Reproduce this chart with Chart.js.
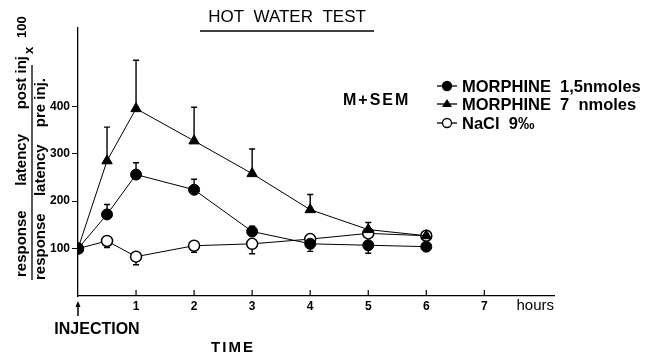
<!DOCTYPE html>
<html>
<head>
<meta charset="UTF-8" />
<title>Hot water test</title>
<script src="https://cdn.jsdelivr.net/npm/chart.js"></script>
<style>
  body { margin: 0; background: #fff; overflow: hidden; }
  .wrap { width: 645px; height: 356px; position: relative; }
</style>
</head>
<body>
<div class="wrap"><canvas id="chart"></canvas></div>
<script>
  // time after injection (hours)
  const hours = [0, 0.5, 1, 2, 3, 4, 5, 6];
  const xTicks = [1, 2, 3, 4, 5, 6, 7];
  const yTicks = [100, 200, 300, 400];

  // response latency post / pre x 100
  const morph15 = [100, 172, 256, 224, 136, 110, 107, 104];
  const morph7 = [100, 285, 395, 327, 258, 182, 140, 127];
  const nacl = [100, 116, 83, 106, 110, 120, 132, 127];

  // SEM, sign = direction the bar is drawn
  const morph15Err = [0, 21, 25, 22, 11, -16, -17, -8];
  const morph7Err = [0, 71, 102, 71, 52, 32, 15, 9];
  const naclErr = [0, -14, -17, -14, -21, 7, 0, 0];

  const legendLabels = ['MORPHINE  1,5nmoles', 'MORPHINE  7  nmoles', 'NaCl  9\u2030'];

  const FONT = '"Liberation Sans", Arial, sans-serif';
  const pts = arr => arr.map((v, i) => ({ x: hours[i], y: v }));
  const errs = [morph15Err, morph7Err, naclErr];

  const errorBars = {
    id: 'errorBars',
    beforeDatasetsDraw(chart) {
      const { ctx, scales: { x, y } } = chart;
      ctx.save();
      ctx.strokeStyle = '#000';
      ctx.lineWidth = 1.4;
      chart.data.datasets.forEach((ds, i) => {
        ds.data.forEach((p, j) => {
          const e = errs[i][j];
          if (!e) return;
          const px = x.getPixelForValue(p.x);
          const p0 = y.getPixelForValue(p.y);
          const p1 = y.getPixelForValue(p.y + e);
          ctx.beginPath();
          ctx.moveTo(px, p0); ctx.lineTo(px, p1);
          ctx.moveTo(px - 3, p1); ctx.lineTo(px + 3, p1);
          ctx.stroke();
        });
      });
      ctx.restore();
    }
  };

  // words spread along a rotated line, from bottom y0 up to y1
  function spread(ctx, words, x, y0, y1) {
    const w = words.map(s => ctx.measureText(s).width);
    const gap = words.length > 1 ? ((y0 - y1) - w.reduce((a, b) => a + b, 0)) / (words.length - 1) : 0;
    let pos = y0;
    words.forEach((s, i) => {
      ctx.save();
      ctx.translate(x, pos);
      ctx.rotate(-Math.PI / 2);
      ctx.fillText(s, 0, 0);
      ctx.restore();
      pos -= w[i] + gap;
    });
  }

  const extras = {
    id: 'extras',
    afterDraw(chart) {
      const { ctx, chartArea: a, scales: { x } } = chart;
      ctx.save();
      ctx.fillStyle = '#000';
      ctx.strokeStyle = '#000';

      // inward x tick marks
      ctx.lineWidth = 1.2;
      xTicks.forEach(t => {
        const px = x.getPixelForValue(t);
        ctx.beginPath(); ctx.moveTo(px, a.bottom); ctx.lineTo(px, a.bottom - 6); ctx.stroke();
      });

      // title
      ctx.font = '17px ' + FONT;
      ctx.textAlign = 'center';
      ctx.textBaseline = 'middle';
      ctx.fillText('HOT  WATER  TEST', 287, 17);
      ctx.lineWidth = 1.5;
      ctx.beginPath(); ctx.moveTo(200, 31); ctx.lineTo(374, 31); ctx.stroke();

      // y title (fraction x 100)
      ctx.font = 'bold 15px ' + FONT;
      ctx.textAlign = 'left';
      spread(ctx, ['response', 'latency', 'post inj'], 22, 277, 56);
      spread(ctx, ['response', 'latency', 'pre inj.'], 41, 280, 78);
      ctx.font = 'bold 13px ' + FONT;
      spread(ctx, ['x'], 29, 54, 47);
      spread(ctx, ['100'], 22, 38, 17);
      ctx.lineWidth = 1.3;
      ctx.beginPath(); ctx.moveTo(32, 65); ctx.lineTo(32, 280); ctx.stroke();

      // M+SEM
      ctx.font = 'bold 16px ' + FONT;
      ctx.letterSpacing = '2px';
      ctx.fillText('M+SEM', 343, 101);
      ctx.letterSpacing = '0px';

      // legend
      const rows = [86, 104, 123];
      chart.data.datasets.forEach((ds, i) => {
        const y0 = rows[i];
        const mx = 447;
        ctx.lineWidth = 1.3;
        ctx.beginPath(); ctx.moveTo(mx - 10, y0); ctx.lineTo(mx + 10, y0); ctx.stroke();
        ctx.beginPath();
        if (ds.pointStyle === 'triangle') {
          ctx.moveTo(mx, y0 - 5); ctx.lineTo(mx + 5, y0 + 3); ctx.lineTo(mx - 5, y0 + 3); ctx.closePath();
          ctx.fill();
        } else {
          ctx.arc(mx, y0, 4.5, 0, Math.PI * 2);
          ctx.fillStyle = ds.backgroundColor;
          ctx.fill();
          ctx.fillStyle = '#000';
          ctx.stroke();
        }
        ctx.font = 'bold 16.5px ' + FONT;
        ctx.fillText(legendLabels[i], 462, y0 + 1);
      });

      // hours, arrow, injection, time
      ctx.font = '15px ' + FONT;
      ctx.textAlign = 'right';
      ctx.fillText('hours', a.right, 306);
      ctx.lineWidth = 1.5;
      ctx.beginPath(); ctx.moveTo(78, 316); ctx.lineTo(78, 304); ctx.stroke();
      ctx.beginPath(); ctx.moveTo(78, 301); ctx.lineTo(75.5, 307); ctx.lineTo(80.5, 307); ctx.closePath(); ctx.fill();
      ctx.textAlign = 'center';
      ctx.font = 'bold 16px ' + FONT;
      ctx.fillText('INJECTION', 97, 330);
      ctx.font = 'bold 15px ' + FONT;
      ctx.letterSpacing = '2px';
      ctx.fillText('TIME', 233, 348);
      ctx.restore();
    }
  };

  new Chart(document.getElementById('chart'), {
    type: 'line',
    data: {
      datasets: [
        { label: legendLabels[0], data: pts(morph15), pointStyle: 'circle', pointRadius: 5.5,
          backgroundColor: '#000', borderColor: '#000', borderWidth: 1, pointBorderWidth: 1 },
        { label: legendLabels[1], data: pts(morph7), pointStyle: 'triangle', pointRadius: 6,
          backgroundColor: '#000', borderColor: '#000', borderWidth: 1, pointBorderWidth: 1 },
        { label: legendLabels[2], data: pts(nacl), pointStyle: 'circle', pointRadius: 5.5,
          backgroundColor: '#fff', borderColor: '#000', borderWidth: 1, pointBorderWidth: 1.5 }
      ]
    },
    options: {
      responsive: true,
      maintainAspectRatio: false,
      animation: false,
      layout: { padding: { top: 28, right: 91, bottom: 0, left: 0 } },
      plugins: { legend: { display: false }, tooltip: { enabled: false } },
      elements: { line: { tension: 0 } },
      scales: {
        x: {
          type: 'linear', min: 0, max: 8.2,
          afterBuildTicks: s => { s.ticks = xTicks.map(v => ({ value: v })); },
          afterFit: s => { s.height = 60; },
          grid: { display: false, drawTicks: false },
          border: { display: true, color: '#000', width: 1.3 },
          ticks: { color: '#000', padding: 3, font: { family: FONT, size: 12, weight: 'bold' } }
        },
        y: {
          min: 0, max: 565,
          afterBuildTicks: s => { s.ticks = yTicks.map(v => ({ value: v })); },
          afterFit: s => { s.width = 78; },
          grid: { drawOnChartArea: false, drawTicks: true, tickLength: 6, color: '#000' },
          border: { display: true, color: '#000', width: 1.3 },
          ticks: { color: '#000', padding: 2, font: { family: FONT, size: 12, weight: 'bold' } }
        }
      }
    },
    plugins: [errorBars, extras]
  });
</script>
</body>
</html>
